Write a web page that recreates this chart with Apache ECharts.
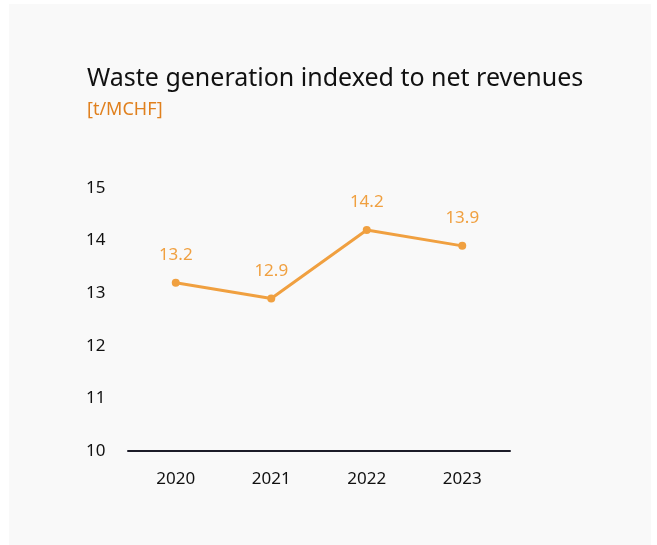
<!DOCTYPE html>
<html>
<head>
<meta charset="utf-8">
<script src="https://cdn.jsdelivr.net/npm/echarts@6/dist/echarts.min.js"></script>
<style>
  html, body { margin: 0; padding: 0; background: #ffffff; }
  #chart { width: 657px; height: 545px; }
</style>
</head>
<body>
<div id="chart"></div>
<script>
// Waste generation per net revenue, by year
const years = ['2020', '2021', '2022', '2023'];
const wastePerRevenue = [13.2, 12.9, 14.2, 13.9];
const yTicks = { min: 10, max: 15, interval: 1 };

const FONT = '"Noto Sans", Lato, sans-serif';

const chart = echarts.init(document.getElementById('chart'), null, { renderer: 'canvas' });

chart.setOption({
  backgroundColor: '#ffffff',
  animation: false,
  graphic: [
    { type: 'rect', left: 9, top: 4, shape: { width: 642, height: 541 }, style: { fill: '#f9f9f9' }, z: -10 },
    { type: 'text', left: 87, top: 66, style: { text: 'Waste generation indexed to net revenues', fill: '#111111', font: '400 25px ' + FONT } },
    { type: 'text', left: 87, top: 101, style: { text: '[t/MCHF]', fill: '#e0801e', font: '400 18px ' + FONT } }
  ],
  grid: { left: 128, right: 147, top: 188, bottom: 94 },
  xAxis: {
    type: 'category',
    data: years,
    boundaryGap: true,
    axisLine: { show: true, lineStyle: { color: '#1c1c28', width: 2 } },
    axisTick: { show: false },
    axisLabel: { color: '#111111', fontSize: 17, margin: 20, fontFamily: FONT },
    splitLine: { show: false }
  },
  yAxis: {
    type: 'value',
    min: yTicks.min,
    max: yTicks.max,
    interval: yTicks.interval,
    axisLine: { show: false },
    axisTick: { show: false },
    splitLine: { show: false },
    axisLabel: { color: '#111111', fontSize: 17, align: 'left', margin: 42, fontFamily: FONT }
  },
  series: [{
    type: 'line',
    data: wastePerRevenue,
    symbol: 'circle',
    symbolSize: 8,
    itemStyle: { color: '#f0a040' },
    lineStyle: { color: '#f0a040', width: 3 },
    label: {
      show: true,
      position: 'top',
      distance: 15,
      color: '#f0a040',
      fontSize: 17,
      fontFamily: FONT,
      formatter: p => p.value.toFixed(1)
    }
  }]
});
</script>
</body>
</html>
